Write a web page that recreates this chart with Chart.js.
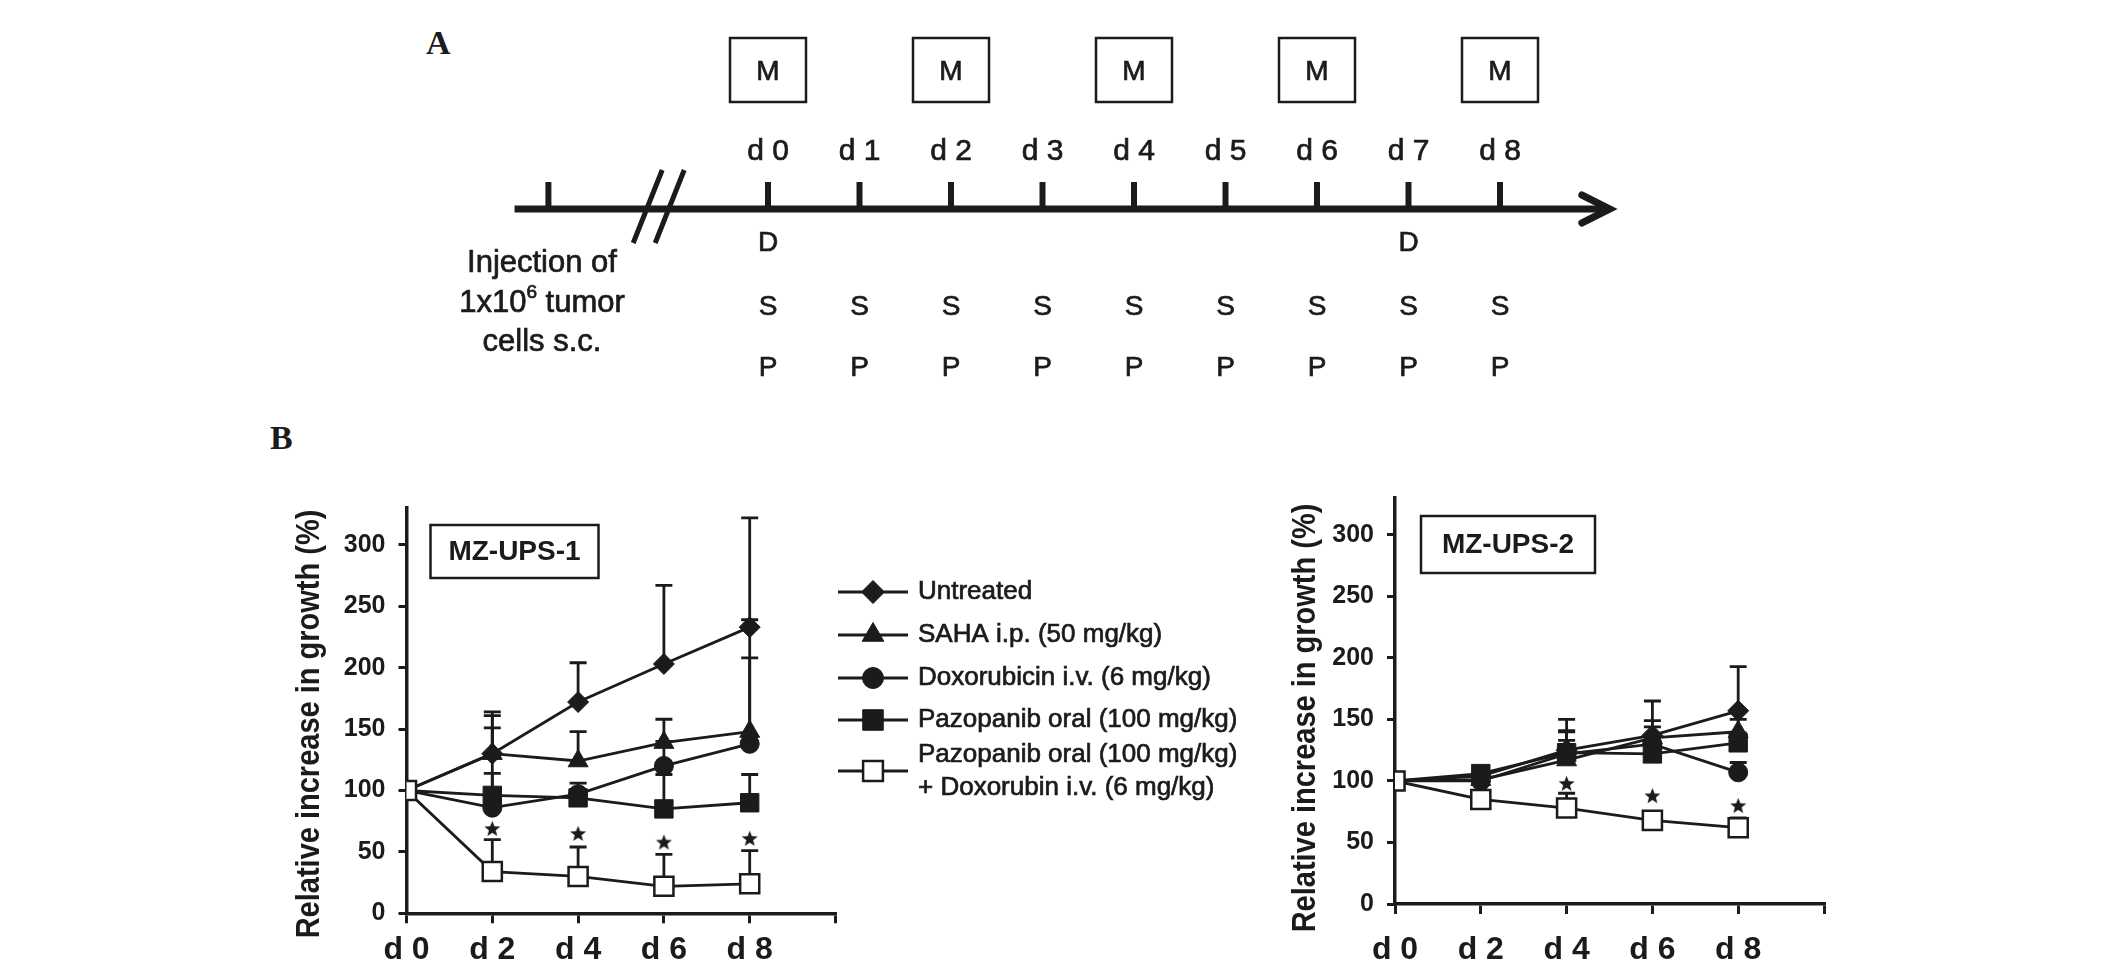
<!DOCTYPE html>
<html>
<head>
<meta charset="utf-8">
<script src="https://cdn.jsdelivr.net/npm/chart.js@4.4.1/dist/chart.umd.min.js"></script>
<style>
  html, body { margin: 0; padding: 0; background: #fff; }
  body { width: 2126px; height: 972px; position: relative; overflow: hidden; }
  .box { position: absolute; }
  .panel { position: absolute; font-family: "Liberation Serif", serif; font-weight: bold; font-size: 34px; line-height: 34px; color: #1b1b1b; }
</style>
</head>
<body>
<div class="panel" style="left:426px; top:26px">A</div>
<div class="panel" style="left:270px; top:421px">B</div>
<div class="box" style="left:0; top:0; width:2126px; height:420px"><canvas id="timeline"></canvas></div>
<div class="box" style="left:270px; top:480px; width:990px; height:492px"><canvas id="ups1"></canvas></div>
<div class="box" style="left:1260px; top:470px; width:600px; height:502px"><canvas id="ups2"></canvas></div>
<script>
// ---- data ----
const days = [0, 2, 4, 6, 8];
const seriesNames = [
  'Untreated',
  'SAHA i.p. (50 mg/kg)',
  'Doxorubicin i.v. (6 mg/kg)',
  'Pazopanib oral (100 mg/kg)',
  'Pazopanib oral (100 mg/kg)|+ Doxorubin i.v. (6 mg/kg)'
];

// MZ-UPS-1 (mean and upper SD)
const ups1Untreated = [100, 130, 172, 203, 233];
const ups1UntreatedSd = [0, 34, 32, 64, 89];
const ups1Saha = [100, 130, 124, 139, 148];
const ups1SahaSd = [0, 31, 24, 19, 91];
const ups1Doxo = [100, 86, 97, 120, 138];
const ups1DoxoSd = [0, 65, 9, 20, 70];
const ups1Pazo = [100, 96, 94, 85, 90];
const ups1PazoSd = [0, 18, 6, 28, 23];
const ups1Combo = [100, 34, 30, 22, 24];
const ups1ComboSd = [0, 26, 24, 26, 27];
const ups1StarDays = [2, 4, 6, 8];
const ups1StarY = [69, 65, 58, 61];

// MZ-UPS-2
const ups2Untreated = [100, 104, 125, 137, 157];
const ups2UntreatedSd = [0, 4, 25, 28, 36];
const ups2Saha = [100, 101, 117, 135, 140];
const ups2SahaSd = [0, 3, 24, 14, 10];
const ups2Doxo = [100, 100, 122, 130, 107];
const ups2DoxoSd = [0, 3, 18, 14, 8];
const ups2Pazo = [100, 106, 123, 122, 131];
const ups2PazoSd = [0, 4, 10, 10, 8];
const ups2Combo = [100, 85, 78, 68, 62];
const ups2ComboSd = [0, 4, 12, 7, 8];
const ups2StarDays = [4, 6, 8];
const ups2StarY = [98, 88, 80];

// timeline (panel A)
const timelineDays = [0, 1, 2, 3, 4, 5, 6, 7, 8];
const mDays = [0, 2, 4, 6, 8];
const dDays = [0, 7];
const sDays = [0, 1, 2, 3, 4, 5, 6, 7, 8];
const pDays = [0, 1, 2, 3, 4, 5, 6, 7, 8];
const injectionDay = -2.4;

const ink = '#1b1b1b';
const FONT = '"Liberation Sans", Arial, sans-serif';

// regular text drawn a touch heavier, like the scanned figure
function heavyText(ctx, t, x, y) {
  ctx.fillText(t, x, y);
  ctx.lineWidth = 0.7;
  ctx.strokeStyle = ink;
  ctx.strokeText(t, x, y);
}

// filled 5-point star used as point style
const starImg = (function () {
  const c = document.createElement('canvas');
  c.width = 17; c.height = 17;
  const g = c.getContext('2d');
  g.fillStyle = ink;
  g.beginPath();
  for (let i = 0; i < 10; i++) {
    const r = i % 2 ? 3.6 : 8.4;
    const a = -Math.PI / 2 + i * Math.PI / 5;
    g.lineTo(8.5 + r * Math.cos(a), 9.2 + r * Math.sin(a));
  }
  g.closePath();
  g.fill();
  return c;
})();

const markers = [
  { pointStyle: 'rectRot', radius: 10.5, legend: 11.5, fill: ink },
  { pointStyle: 'triangle', radius: 11.5, legend: 12.5, fill: ink },
  { pointStyle: 'circle', radius: 9.5, legend: 10.5, fill: ink },
  { pointStyle: 'rect', radius: 13, legend: 14.5, fill: ink },
  { pointStyle: 'rect', radius: 13.5, legend: 14, fill: '#fff' }
];

function growthDatasets(means, sds, starDays, starY) {
  const sets = means.map(function (m, i) {
    return {
      label: seriesNames[i],
      data: days.map(function (d, j) { return { x: d, y: m[j] }; }),
      errors: sds[i],
      borderColor: ink,
      borderWidth: 2.8,
      pointStyle: markers[i].pointStyle,
      pointRadius: markers[i].radius,
      pointBackgroundColor: markers[i].fill,
      pointBorderColor: ink,
      pointBorderWidth: i === 4 ? 2.5 : 1,
      order: i === 4 ? 0 : 1
    };
  });
  sets.push({
    label: 'p < 0.05',
    data: starDays.map(function (d, j) { return { x: d, y: starY[j] }; }),
    showLine: false,
    pointStyle: starImg,
    pointRadius: 8,
    order: 0
  });
  return sets;
}

const errorBars = {
  id: 'errorBars',
  beforeDatasetsDraw(chart) {
    const ctx = chart.ctx, y = chart.scales.y;
    ctx.save();
    ctx.strokeStyle = ink;
    ctx.lineWidth = 2.8;
    chart.data.datasets.forEach(function (ds, i) {
      if (!ds.errors) return;
      chart.getDatasetMeta(i).data.forEach(function (pt, j) {
        const sd = ds.errors[j];
        if (!sd) return;
        const top = y.getPixelForValue(ds.data[j].y + sd);
        ctx.beginPath();
        ctx.moveTo(pt.x, pt.y);
        ctx.lineTo(pt.x, top);
        ctx.moveTo(pt.x - 8.5, top);
        ctx.lineTo(pt.x + 8.5, top);
        ctx.stroke();
      });
    });
    ctx.restore();
  }
};

// rotated y title and the cell-line tag
const decor = {
  id: 'decor',
  afterDraw(chart, args, o) {
    const ctx = chart.ctx, a = chart.chartArea;
    ctx.save();
    ctx.fillStyle = ink;
    ctx.translate(o.titleX, o.titleY);
    ctx.rotate(-Math.PI / 2);
    ctx.scale(1, 1.15);
    ctx.font = 'bold 29px ' + FONT;
    ctx.textAlign = 'center';
    ctx.textBaseline = 'middle';
    ctx.fillText('Relative increase in growth (%)', 0, 0);
    ctx.restore();

    ctx.save();
    ctx.strokeStyle = ink;
    ctx.lineWidth = 2.5;
    const bx = a.left + o.tag.dx, by = a.top + o.tag.dy;
    ctx.strokeRect(bx, by, o.tag.w, o.tag.h);
    ctx.fillStyle = ink;
    ctx.font = 'bold 28px ' + FONT;
    ctx.textAlign = 'center';
    ctx.textBaseline = 'middle';
    ctx.fillText(o.tag.text, bx + o.tag.w / 2, by + o.tag.h / 2 + 1);
    ctx.restore();
  }
};

// legend with line through marker
const seriesKey = {
  id: 'seriesKey',
  afterDraw(chart, args, o) {
    if (!o.rows) return;
    const ctx = chart.ctx;
    ctx.save();
    seriesNames.forEach(function (name, i) {
      const y = o.rows[i];
      ctx.strokeStyle = ink;
      ctx.lineWidth = 2.8;
      ctx.beginPath();
      ctx.moveTo(o.x0, y);
      ctx.lineTo(o.x1, y);
      ctx.stroke();
      ctx.fillStyle = markers[i].fill;
      ctx.lineWidth = i === 4 ? 2.5 : 1;
      Chart.helpers.drawPoint(ctx, { pointStyle: markers[i].pointStyle, radius: markers[i].legend, rotation: 0, borderWidth: ctx.lineWidth }, (o.x0 + o.x1) / 2, y);
      ctx.fillStyle = ink;
      ctx.font = '26px ' + FONT;
      ctx.textAlign = 'left';
      ctx.textBaseline = 'middle';
      const lines = name.split('|');
      lines.forEach(function (t, k) {
        heavyText(ctx, t, o.tx, y + (k - (lines.length - 1) / 2) * o.lineGap);
      });
    });
    ctx.restore();
  }
};

function growthOptions(o) {
  return {
    responsive: true,
    maintainAspectRatio: false,
    animation: false,
    layout: { padding: { top: o.top, right: o.right, left: 0, bottom: 0 } },
    scales: {
      x: {
        type: 'linear', min: 0, max: 10,
        ticks: {
          stepSize: 2, autoSkip: false, maxRotation: 0, padding: o.xPad, color: ink,
          font: { family: FONT, size: 32, weight: 'bold' },
          callback: function (v) { return v <= 8 ? 'd ' + v : ''; }
        },
        grid: { drawOnChartArea: false, color: ink, lineWidth: 3, tickLength: 10 },
        border: { color: ink, width: 3.5 },
        afterFit: function (s) { s.height = o.xH; }
      },
      y: {
        min: 0, max: 330,
        ticks: {
          stepSize: 50, includeBounds: false, padding: 13, color: ink,
          font: { family: FONT, size: 25, weight: 'bold' }
        },
        grid: { drawOnChartArea: false, color: ink, lineWidth: 3, tickLength: 8 },
        border: { color: ink, width: 3.5 },
        afterFit: function (s) { s.width = o.yW; }
      }
    },
    plugins: {
      legend: { display: false },
      tooltip: { enabled: false },
      decor: { titleX: o.titleX, titleY: o.titleY, tag: o.tag },
      seriesKey: o.key || {}
    }
  };
}

new Chart(document.getElementById('ups1'), {
  type: 'line',
  data: {
    datasets: growthDatasets(
      [ups1Untreated, ups1Saha, ups1Doxo, ups1Pazo, ups1Combo],
      [ups1UntreatedSd, ups1SahaSd, ups1DoxoSd, ups1PazoSd, ups1ComboSd],
      ups1StarDays, ups1StarY)
  },
  options: growthOptions({
    top: 25, right: 424.5, yW: 136.5, xH: 58.7, xPad: 8,
    titleX: 40, titleY: 244,
    tag: { text: 'MZ-UPS-1', dx: 24, dy: 17, w: 168, h: 53 },
    key: { x0: 568, x1: 638, tx: 648, rows: [112, 155, 198, 240, 291], lineGap: 33 }
  }),
  plugins: [errorBars, decor, seriesKey]
});

new Chart(document.getElementById('ups2'), {
  type: 'line',
  data: {
    datasets: growthDatasets(
      [ups2Untreated, ups2Saha, ups2Doxo, ups2Pazo, ups2Combo],
      [ups2UntreatedSd, ups2SahaSd, ups2DoxoSd, ups2PazoSd, ups2ComboSd],
      ups2StarDays, ups2StarY)
  },
  options: growthOptions({
    top: 27, right: 36, yW: 135, xH: 68, xPad: 17,
    titleX: 46, titleY: 248,
    tag: { text: 'MZ-UPS-2', dx: 26, dy: 18, w: 174, h: 57 }
  }),
  plugins: [errorBars, decor, seriesKey]
});

// ---- panel A: treatment schedule on a day axis ----
const ROW = { box: 70, day: 152, axis: 209, D: 243, S: 307, P: 368 };
const timelinePlugin = {
  id: 'timelinePlugin',
  afterDraw(chart) {
    const ctx = chart.ctx, x = chart.scales.x;
    const px = function (v) { return x.getPixelForValue(v); };
    ctx.save();
    ctx.strokeStyle = ink;
    ctx.fillStyle = ink;

    // axis and arrow
    const tip = px(9.2);
    ctx.lineWidth = 7;
    ctx.beginPath();
    ctx.moveTo(px(-2.77), ROW.axis);
    ctx.lineTo(tip - 3, ROW.axis);
    ctx.stroke();
    ctx.lineCap = 'round';
    ctx.beginPath();
    ctx.moveTo(tip - 28, ROW.axis - 14);
    ctx.lineTo(tip, ROW.axis);
    ctx.lineTo(tip - 28, ROW.axis + 14);
    ctx.stroke();
    ctx.lineCap = 'butt';

    // tick marks
    ctx.lineWidth = 6;
    [injectionDay].concat(timelineDays).forEach(function (d) {
      ctx.beginPath();
      ctx.moveTo(px(d), ROW.axis - 27);
      ctx.lineTo(px(d), ROW.axis);
      ctx.stroke();
    });

    // axis break
    const cb = px(-1.2);
    ctx.lineWidth = 5;
    ctx.beginPath();
    ctx.moveTo(cb - 25, ROW.axis + 34); ctx.lineTo(cb + 4, ROW.axis - 39);
    ctx.moveTo(cb - 3, ROW.axis + 34); ctx.lineTo(cb + 26, ROW.axis - 39);
    ctx.stroke();

    ctx.textAlign = 'center';
    ctx.textBaseline = 'middle';

    // day labels
    ctx.font = '30px ' + FONT;
    timelineDays.forEach(function (d) { heavyText(ctx, 'd ' + d, px(d), ROW.day); });

    // M boxes
    ctx.font = '28px ' + FONT;
    mDays.forEach(function (d) {
      ctx.lineWidth = 2.5;
      ctx.strokeRect(px(d) - 38, ROW.box - 32, 76, 64);
      heavyText(ctx, 'M', px(d), ROW.box + 2);
    });

    // D, S, P rows
    dDays.forEach(function (d) { heavyText(ctx, 'D', px(d), ROW.D); });
    sDays.forEach(function (d) { heavyText(ctx, 'S', px(d), ROW.S); });
    pDays.forEach(function (d) { heavyText(ctx, 'P', px(d), ROW.P); });

    // injection note
    const cx = px(injectionDay - 0.07);
    ctx.font = '31px ' + FONT;
    heavyText(ctx, 'Injection of', cx, 263);
    heavyText(ctx, 'cells s.c.', cx, 342);
    const a = '1x10', b = ' tumor';
    const wa = ctx.measureText(a).width, wb = ctx.measureText(b).width;
    ctx.font = '19px ' + FONT;
    const ws = ctx.measureText('6').width;
    const left = cx - (wa + ws + wb) / 2;
    ctx.textAlign = 'left';
    heavyText(ctx, '6', left + wa, 293);
    ctx.font = '31px ' + FONT;
    heavyText(ctx, a, left, 303);
    heavyText(ctx, b, left + wa + ws, 303);
    ctx.restore();
  }
};

new Chart(document.getElementById('timeline'), {
  type: 'scatter',
  data: { datasets: [{ data: [], pointRadius: 0 }] },
  options: {
    responsive: true,
    maintainAspectRatio: false,
    animation: false,
    layout: { padding: { left: 493.5, right: 443, top: 0, bottom: 0 } },
    scales: {
      x: { type: 'linear', min: -3, max: 10, display: false },
      y: { min: 0, max: 1, display: false }
    },
    plugins: { legend: { display: false }, tooltip: { enabled: false } }
  },
  plugins: [timelinePlugin]
});
</script>
</body>
</html>
